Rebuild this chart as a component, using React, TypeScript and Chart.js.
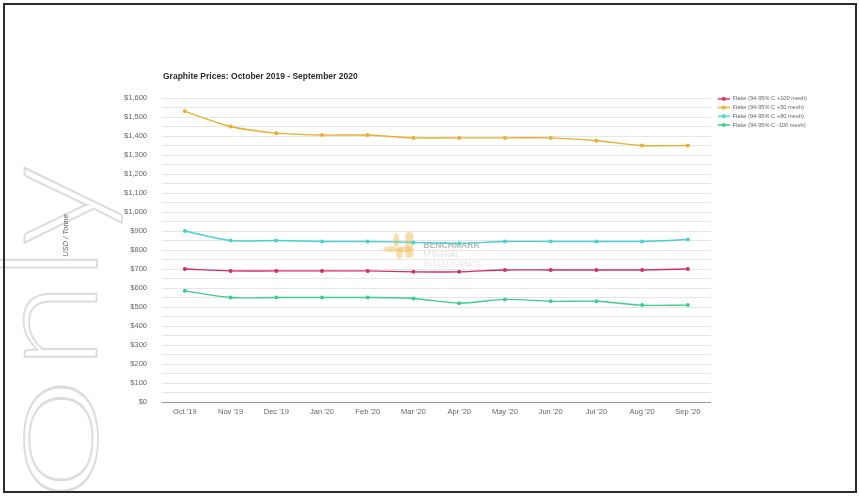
import React, { useEffect, useRef } from 'react';
import { Chart, registerables } from 'chart.js';

Chart.register(...registerables);

const months = ["Oct '19", "Nov '19", "Dec '19", "Jan '20", "Feb '20", "Mar '20", "Apr '20", "May '20", "Jun '20", "Jul '20", "Aug '20", "Sep '20"];

const flakePlus100 = [700, 690, 690, 690, 690, 685, 685, 695, 695, 695, 695, 700];
const flakePlus50 = [1530, 1450, 1415, 1405, 1405, 1390, 1390, 1390, 1390, 1375, 1350, 1350];
const flakePlus80 = [900, 850, 850, 845, 845, 840, 835, 845, 845, 845, 845, 855];
const flakeMinus100 = [585, 550, 550, 550, 550, 545, 520, 540, 530, 530, 510, 510];

const seriesNames = [
  'Flake (94-95% C +100 mesh)',
  'Flake (94-95% C +50 mesh)',
  'Flake (94-95% C +80 mesh)',
  'Flake (94-95% C -100 mesh)',
];
const seriesColors = ['#d42f63', '#e8b02c', '#45d2d6', '#3dce8d'];

const yMin = 0;
const yMax = 1600;
const yGridStep = 50;
const yLabelStep = 100;

const chartTitle = 'Graphite Prices: October 2019 - September 2020';
const yAxisTitle = 'USD / Tonne';
const watermarkLines = ['BENCHMARK', 'MINERAL', 'INTELLIGENCE'];
const sideWordStart = 'o';
const sideWordRest = 'nly';

const FONT = "'Liberation Sans', Arial, Helvetica, sans-serif";

function legendMarker(color: string): HTMLCanvasElement {
  const c = document.createElement('canvas');
  c.width = 16;
  c.height = 6;
  const ctx = c.getContext('2d')!;
  ctx.strokeStyle = color;
  ctx.lineWidth = 1.5;
  ctx.beginPath();
  ctx.moveTo(4, 3);
  ctx.lineTo(16, 3);
  ctx.stroke();
  ctx.fillStyle = color;
  ctx.beginPath();
  ctx.arc(10, 3, 2, 0, Math.PI * 2);
  ctx.fill();
  return c;
}

const decorPlugin = {
  id: 'decor',
  afterLayout(chart: any) {
    const lg = chart.legend;
    if (lg) {
      lg.top -= 5;
      lg.bottom -= 5;
    }
  },
  beforeDatasetsDraw(chart: any) {
    const { ctx, chartArea } = chart;
    const cx = (chartArea.left + chartArea.right) / 2;
    const cy = (chartArea.top + chartArea.bottom) / 2;
    ctx.save();
    // logo
    ctx.globalAlpha = 0.5;
    ctx.fillStyle = '#f4be5c';
    const rr = (x: number, y: number, w: number, h: number, r: number) => {
      ctx.beginPath();
      ctx.roundRect(x, y, w, h, r);
      ctx.fill();
    };
    rr(cx - 31, cy - 18, 8, 26, 4);
    rr(cx - 39, cy - 3, 14, 5, 2);
    ctx.beginPath();
    ctx.ellipse(cx - 40, cy - 10, 3, 7, 0, 0, Math.PI * 2);
    ctx.fill();
    ctx.beginPath();
    ctx.ellipse(cx - 46, cy - 1, 7, 3, 0, 0, Math.PI * 2);
    ctx.fill();
    ctx.beginPath();
    ctx.ellipse(cx - 37, cy + 3, 3.5, 6, 0, 0, Math.PI * 2);
    ctx.fill();
    // text
    ctx.globalAlpha = 0.7;
    ctx.textBaseline = 'middle';
    ctx.textAlign = 'left';
    ctx.fillStyle = '#9a9a9a';
    ctx.font = `bold 8.6px ${FONT}`;
    ctx.fillText(watermarkLines[0], cx - 13, cy - 4.5);
    ctx.fillStyle = '#c4c4c4';
    ctx.font = `300 8.6px Lato, ${FONT}`;
    ctx.fillText(watermarkLines[1], cx - 13, cy + 4.5);
    ctx.fillText(watermarkLines[2], cx - 13, cy + 14);
    ctx.restore();
  },
  afterDraw(chart: any) {
    const { ctx, chartArea } = chart;
    ctx.save();
    ctx.fillStyle = '#2b2b2b';
    ctx.font = `bold 8.5px ${FONT}`;
    ctx.textBaseline = 'middle';
    ctx.textAlign = 'left';
    ctx.fillText(chartTitle, chartArea.left + 1, 77);
    ctx.restore();
  },
};

export default function App() {
  const canvasRef = useRef<HTMLCanvasElement | null>(null);

  useEffect(() => {
    if (!canvasRef.current) return;
    const markers = seriesColors.map(legendMarker);
    const seriesData = [flakePlus100, flakePlus50, flakePlus80, flakeMinus100];
    const chart = new Chart(canvasRef.current, {
      type: 'line',
      data: {
        labels: months,
        datasets: seriesData.map((d, i) => ({
          label: seriesNames[i],
          data: d,
          borderColor: seriesColors[i],
          backgroundColor: seriesColors[i],
          borderWidth: 1.4,
          pointRadius: 2,
          pointBorderWidth: 0,
          pointHoverRadius: 2,
          tension: 0.3,
          fill: false,
        })),
      },
      options: {
        responsive: false,
        devicePixelRatio: 1,
        animation: false,
        layout: { padding: { top: 98, left: 57, right: 43, bottom: 75 } },
        plugins: {
          tooltip: { enabled: false },
          title: { display: false },
          legend: {
            position: 'right',
            align: 'start',
            labels: {
              usePointStyle: true,
              pointStyleWidth: 16,
              boxHeight: 6,
              padding: 3,
              color: '#666',
              font: { size: 5.7, family: FONT },
              generateLabels: (ch: any) => {
                const items = (Chart.defaults.plugins.legend.labels as any).generateLabels(ch);
                return items.map((it: any, i: number) => ({ ...it, pointStyle: markers[i] }));
              },
            },
          },
        },
        scales: {
          x: {
            offset: true,
            grid: { display: false, drawTicks: false },
            border: { display: true, color: '#9a9a9a', width: 1 },
            ticks: {
              padding: 5,
              color: '#666',
              font: { size: 7.5, family: FONT },
              maxRotation: 0,
              autoSkip: false,
            },
          },
          y: {
            min: yMin,
            max: yMax,
            grid: { color: '#e6e6e6', drawTicks: false, lineWidth: 1 },
            border: { display: false },
            ticks: {
              stepSize: yGridStep,
              autoSkip: false,
              padding: 15,
              color: '#666',
              font: { size: 7.5, family: FONT },
              callback: (v: any) =>
                Number(v) % yLabelStep === 0 ? '$' + Number(v).toLocaleString('en-US') : '',
            },
            title: {
              display: true,
              text: '\u00A0'.repeat(14) + yAxisTitle,
              color: '#666',
              font: { size: 7.5, style: 'italic', family: FONT },
              padding: { top: 4, bottom: 0 },
            },
            afterFit: (s: any) => {
              s.width = 105;
            },
          },
        },
      },
      plugins: [decorPlugin],
    } as any);
    return () => chart.destroy();
  }, []);

  return (
    <div
      style={{
        position: 'fixed',
        left: 0,
        top: 0,
        width: 860,
        height: 496,
        background: '#fff',
        overflow: 'hidden',
      }}
    >
      <svg width={860} height={496} style={{ position: 'absolute', left: 0, top: 0 }}>
        <text
          transform="translate(97 503) rotate(-90)"
          fontSize={145}
          fontFamily="Lato, 'Open Sans', sans-serif"
          fontWeight={300}
          fill="none"
          stroke="#dcdcdc"
          strokeWidth={1.8}
          textLength={128}
          lengthAdjust="spacingAndGlyphs"
        >
          {sideWordStart}
        </text>
        <text
          transform="translate(97 370) rotate(-90)"
          fontSize={145}
          fontFamily="Lato, 'Open Sans', sans-serif"
          fontWeight={300}
          fill="none"
          stroke="#dcdcdc"
          strokeWidth={1.8}
          textLength={205}
          lengthAdjust="spacingAndGlyphs"
        >
          {sideWordRest}
        </text>
      </svg>
      <canvas
        ref={canvasRef}
        width={860}
        height={496}
        style={{ position: 'absolute', left: 0, top: 0 }}
      />
      <div
        style={{
          position: 'absolute',
          left: 3,
          top: 3,
          width: 854,
          height: 490,
          boxSizing: 'border-box',
          border: '2px solid #2a2a2a',
          pointerEvents: 'none',
        }}
      />
    </div>
  );
}
